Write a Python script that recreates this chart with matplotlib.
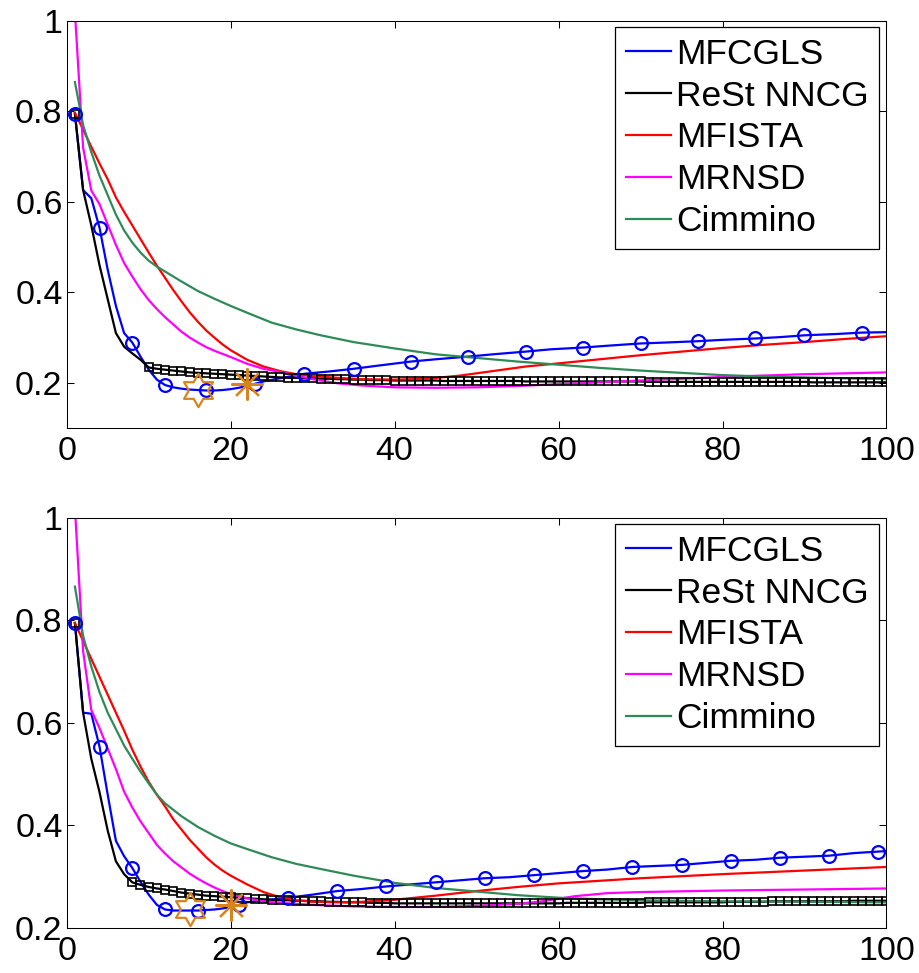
import matplotlib
matplotlib.use("Agg")
import matplotlib.pyplot as plt
from matplotlib.path import Path

plt.rcParams['font.family'] = ['Liberation Sans', 'DejaVu Sans']

# --- data: top panel ---
top_cgls_x = [1, 2, 3, 4, 5, 6, 7, 8, 9, 10, 11, 12, 13, 14, 15, 16, 17, 18, 19, 20, 21, 22, 23, 24, 26,
              29, 32, 35, 38, 42, 45, 49, 52, 56, 59, 63, 66, 70, 73, 77, 80, 84, 87, 90, 94, 97, 100]
top_cgls_y = [0.795, 0.626, 0.608, 0.543, 0.45, 0.37, 0.31, 0.289, 0.258, 0.229, 0.207, 0.195, 0.190, 0.187,
              0.185, 0.184, 0.183, 0.183, 0.184, 0.186, 0.189, 0.193, 0.198, 0.203, 0.210,
              0.220, 0.225, 0.231, 0.238, 0.247, 0.252, 0.258, 0.263, 0.269, 0.274, 0.278, 0.282, 0.287,
              0.289, 0.292, 0.295, 0.298, 0.301, 0.305, 0.308, 0.311, 0.312]
top_cgls_marks = [1, 4, 8, 12, 17, 23, 29, 35, 42, 49, 56, 63, 70, 77, 84, 90, 97]

top_nncg_x = list(range(1, 101))
top_nncg_y = ([0.795, 0.626, 0.548, 0.46, 0.385, 0.31, 0.28, 0.265, 0.251, 0.234,
               0.231, 0.229, 0.227, 0.225, 0.223, 0.222, 0.221, 0.220, 0.219, 0.218,
               0.217, 0.216, 0.215, 0.214, 0.213, 0.212, 0.211, 0.211, 0.210, 0.210,
               0.209, 0.209, 0.208, 0.208, 0.207, 0.207, 0.206, 0.206, 0.206, 0.205]
              + [0.205] * 5 + [0.204] * 10 + [0.203] * 15 + [0.202] * 20 + [0.201] * 10)
top_nncg_marks = [1] + list(range(10, 101))

top_fista_x = [1, 2, 3, 4, 5, 6, 7, 8, 9, 10, 11, 12, 13, 14, 15, 16, 17, 18, 19, 20, 22, 24, 26, 28, 30,
               33, 36, 40, 44, 48, 52, 56, 60, 65, 70, 75, 80, 85, 90, 95, 100]
top_fista_y = [0.797, 0.76, 0.722, 0.685, 0.65, 0.61, 0.578, 0.548, 0.518, 0.488, 0.459, 0.432, 0.405,
               0.38, 0.356, 0.335, 0.316, 0.30, 0.285, 0.272, 0.251, 0.236, 0.226, 0.219, 0.215,
               0.211, 0.208, 0.207, 0.209, 0.216, 0.226, 0.236, 0.243, 0.252, 0.261, 0.269, 0.277,
               0.284, 0.290, 0.297, 0.303]

top_rnsd_x = [1, 2, 3, 4, 5, 6, 7, 8, 9, 10, 11, 12, 13, 14, 15, 16, 17, 18, 19, 20, 22, 24, 26, 28, 30,
              33, 36, 40, 45, 50, 55, 60, 70, 80, 90, 100]
top_rnsd_y = [1.02, 0.72, 0.625, 0.595, 0.55, 0.505, 0.465, 0.435, 0.407, 0.383, 0.363, 0.345, 0.329,
              0.313, 0.30, 0.289, 0.279, 0.271, 0.264, 0.257, 0.242, 0.231, 0.224, 0.216, 0.208,
              0.199, 0.194, 0.19, 0.189, 0.19, 0.193, 0.197, 0.205, 0.213, 0.219, 0.223]

top_cimm_x = [1, 2, 3, 4, 5, 6, 7, 8, 9, 10, 11, 12, 14, 16, 18, 20, 22, 25, 28, 31, 35, 40, 45, 50, 55,
              60, 65, 70, 75, 80, 85, 90, 95, 100]
top_cimm_y = [0.865, 0.77, 0.71, 0.658, 0.615, 0.572, 0.537, 0.51, 0.488, 0.47, 0.457, 0.446, 0.424,
              0.403, 0.386, 0.37, 0.355, 0.333, 0.318, 0.305, 0.29, 0.276, 0.263, 0.255, 0.247,
              0.24, 0.233, 0.227, 0.222, 0.217, 0.214, 0.212, 0.21, 0.208]

top_hex = (16, 0.184)
top_ast = (22, 0.198)

# --- data: bottom panel ---
bot_cgls_x = [1, 2, 3, 4, 5, 6, 7, 8, 9, 10, 11, 12, 13, 14, 15, 16, 17, 18, 19, 20, 21, 22, 23, 24,
              27, 30, 33, 36, 39, 42, 45, 48, 51, 54, 57, 60, 63, 66, 69, 72, 75, 78, 81, 84, 87, 90,
              93, 96, 99, 100]
bot_cgls_y = [0.795, 0.62, 0.618, 0.554, 0.46, 0.37, 0.34, 0.317, 0.29, 0.265, 0.245, 0.236, 0.234,
              0.234, 0.234, 0.234, 0.235, 0.236, 0.238, 0.241, 0.245, 0.25, 0.252, 0.254,
              0.259, 0.265, 0.272, 0.276, 0.281, 0.285, 0.289, 0.293, 0.297, 0.299, 0.303, 0.307,
              0.311, 0.314, 0.319, 0.321, 0.323, 0.327, 0.331, 0.333, 0.337, 0.339, 0.341, 0.346,
              0.349, 0.35]
bot_cgls_marks = [1, 4, 8, 12, 16, 21, 27, 33, 39, 45, 51, 57, 63, 69, 75, 81, 87, 93, 99]

bot_nncg_x = list(range(1, 101))
bot_nncg_y = ([0.795, 0.62, 0.53, 0.465, 0.39, 0.33, 0.305, 0.289, 0.284, 0.28,
               0.277, 0.275, 0.272, 0.269, 0.267, 0.265, 0.263, 0.262, 0.261, 0.26,
               0.259, 0.258, 0.257, 0.256, 0.255, 0.254, 0.254, 0.253, 0.253, 0.252,
               0.252, 0.251, 0.251, 0.250, 0.250, 0.250, 0.249, 0.249, 0.249, 0.248]
              + [0.248] * 20 + [0.249] * 10 + [0.25] * 10 + [0.251] * 5 + [0.252] * 10
              + [0.253] * 5)
bot_nncg_marks = [1] + list(range(8, 101))

bot_fista_x = [1, 2, 3, 4, 5, 6, 7, 8, 9, 10, 11, 12, 13, 14, 15, 16, 17, 18, 19, 20, 22, 24, 26, 28, 30,
               33, 36, 40, 45, 50, 55, 60, 65, 70, 80, 90, 100]
bot_fista_y = [0.795, 0.76, 0.725, 0.69, 0.655, 0.62, 0.585, 0.548, 0.515, 0.485, 0.46, 0.437, 0.412,
               0.392, 0.372, 0.355, 0.338, 0.324, 0.312, 0.302, 0.285, 0.27, 0.26, 0.254, 0.251,
               0.25, 0.251, 0.255, 0.263, 0.272, 0.28, 0.287, 0.292, 0.297, 0.305, 0.312, 0.319]

bot_rnsd_x = [1, 2, 3, 4, 5, 6, 7, 8, 9, 10, 11, 12, 13, 14, 15, 16, 17, 18, 19, 20, 22, 24, 26, 28, 30,
              35, 40, 45, 50, 55, 58, 62, 66, 70, 80, 90, 100]
bot_rnsd_y = [1.02, 0.74, 0.625, 0.59, 0.55, 0.51, 0.466, 0.435, 0.408, 0.385, 0.362, 0.345, 0.33,
              0.318, 0.306, 0.296, 0.287, 0.279, 0.272, 0.266, 0.258, 0.252, 0.249, 0.247, 0.245,
              0.242, 0.241, 0.241, 0.243, 0.247, 0.252, 0.262, 0.268, 0.27, 0.273, 0.275, 0.277]

bot_cimm_x = [1, 2, 3, 4, 5, 6, 7, 8, 9, 10, 11, 12, 14, 16, 18, 20, 22, 25, 28, 31, 35, 40, 45, 50, 55,
              60, 65, 70, 80, 90, 100]
bot_cimm_y = [0.866, 0.77, 0.71, 0.66, 0.62, 0.588, 0.556, 0.53, 0.505, 0.482, 0.46, 0.443, 0.418,
              0.397, 0.38, 0.365, 0.354, 0.338, 0.325, 0.315, 0.302, 0.288, 0.278, 0.271, 0.264,
              0.259, 0.256, 0.254, 0.252, 0.251, 0.25]

bot_hex = (15, 0.236)
bot_ast = (20, 0.245)

labels = ["MFCGLS", "ReSt NNCG", "MFISTA", "MRNSD", "Cimmino"]
colors = ["#0000FF", "#000000", "#FF0000", "#FF00FF", "#2E8B57"]
orange = "#D9821E"

# six pointed star like MATLAB 'h'
hexagram = Path.unit_regular_star(6, 0.577)


def draw_panel(ax, series, cgls_marks, nncg_marks, hexpt, astpt, ylim):
    (cx, cy), (nx, ny), (fx, fy), (rx, ry), (gx, gy) = series
    for (x, y), lab, col in zip(series, labels, colors):
        ax.plot(x, y, color=col, lw=1.6, label=lab, zorder=2)
    # squares on ReSt NNCG
    ax.plot(nncg_marks, [ny[nx.index(k)] for k in nncg_marks], ls="none", marker="s",
            ms=6, mfc="none", mec="black", mew=1.2, zorder=3)
    # circles on MFCGLS
    ax.plot(cgls_marks, [cy[cx.index(k)] for k in cgls_marks], ls="none", marker="o",
            ms=9.2, mfc="none", mec="#0000FF", mew=1.6, zorder=4)
    ax.plot([hexpt[0]], [hexpt[1]], ls="none", marker=hexagram, ms=24, mfc="none",
            mec=orange, mew=1.6, zorder=5)
    ax.plot([astpt[0]], [astpt[1]], ls="none", marker=(8, 2, 0), ms=23,
            mec=orange, mew=1.6, zorder=5)

    ax.set_xlim(0, 100)
    ax.set_ylim(*ylim)
    ax.set_xticks([0, 20, 40, 60, 80, 100])
    ax.set_yticks([0.2, 0.4, 0.6, 0.8, 1.0])
    ax.set_yticklabels(["0.2", "0.4", "0.6", "0.8", "1"])
    ax.tick_params(direction="in", top=True, right=True, length=5, width=0.75,
                   labelsize=24.5)
    ax.tick_params(axis="x", pad=6)
    ax.tick_params(axis="y", pad=3)
    for sp in ax.spines.values():
        sp.set_linewidth(0.75)
    leg = ax.legend(loc="upper right", bbox_to_anchor=(0.991, 0.985), borderaxespad=0,
                    fontsize=25.5, handlelength=1.27, handletextpad=0.14, labelspacing=0.25,
                    borderpad=0.3, fancybox=False, framealpha=1, edgecolor="black")
    leg.get_frame().set_linewidth(0.9)


fig = plt.figure(figsize=(9.19, 9.73), dpi=100)
ax1 = fig.add_axes([0.0726, 0.5601, 0.892, 0.4183])
ax2 = fig.add_axes([0.0726, 0.0463, 0.892, 0.4214])

draw_panel(ax1,
           [(top_cgls_x, top_cgls_y), (top_nncg_x, top_nncg_y), (top_fista_x, top_fista_y),
            (top_rnsd_x, top_rnsd_y), (top_cimm_x, top_cimm_y)],
           top_cgls_marks, top_nncg_marks, top_hex, top_ast, (0.1, 1.0))
draw_panel(ax2,
           [(bot_cgls_x, bot_cgls_y), (bot_nncg_x, bot_nncg_y), (bot_fista_x, bot_fista_y),
            (bot_rnsd_x, bot_rnsd_y), (bot_cimm_x, bot_cimm_y)],
           bot_cgls_marks, bot_nncg_marks, bot_hex, bot_ast, (0.2, 1.0))

fig.savefig("out.png", dpi=100)
